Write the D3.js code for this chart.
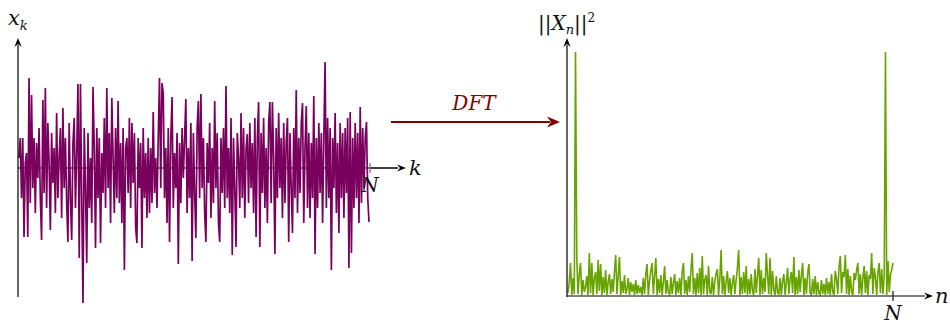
<!DOCTYPE html>
<html>
<head>
<meta charset="utf-8">
<script src="https://cdn.jsdelivr.net/npm/d3@7"></script>
<style>
  html, body { margin: 0; padding: 0; background: #fff; }
  svg { display: block; }
  text { font-family: "DejaVu Serif", "Liberation Serif", serif; }
</style>
</head>
<body>
<svg id="chart" width="950" height="325"></svg>
<script>
// ---- DATA ----
const signal = [
  0.10, 0.30, -0.30, 0.30, -0.69, 0.05, 0.15, -0.69, 0.90, -0.35, 0.73, -0.20, 0.30, -0.45, 0.25, -0.10, 0.40, -0.30, -0.72, 0.68,
  -0.25, 0.80, -0.40, 0.45, 0.05, -0.62, 0.35, -0.15, 0.20, -0.45, 0.55, -0.30, 0.10, 0.40, -0.50, 0.60, -0.20, 0.30, -0.35, -0.74,
  0.45, -0.30, -0.72, 0.25, 0.50, -0.40, 0.15, 0.84, -0.90, 0.84, -0.30, -1.35, 0.40, -0.20, -0.95, 0.35, -0.40, 0.10, -0.55, 0.81,
  0.20, -0.80, 0.40, -0.30, 0.30, -0.75, 0.15, -0.25, 0.50, -0.40, 0.80, -0.20, 0.35, -0.55, 0.70, 0.10, -0.45, 0.40, -0.30, 0.67,
  -0.35, 0.25, -0.55, 0.40, -1.02, 0.20, 0.30, -0.25, 0.50, -0.40, 0.45, -0.15, 0.35, -0.60, -0.75, 0.30, -0.20, 0.25, -0.80, 0.40,
  -0.30, 0.15, -0.50, 0.30, -0.45, 0.20, -0.35, 0.56, -0.25, 0.10, -0.40, 0.30, 0.90, -0.20, 0.85, 0.75, -0.30, 0.20, -0.55, 0.40,
  -0.74, 0.30, 0.71, -0.40, 0.15, -0.20, 0.35, -0.96, 0.25, -0.35, 0.40, -0.10, 0.30, 0.69, -0.45, 0.20, -0.30, 0.45, -0.93, 0.35,
  -0.25, -0.70, 0.40, 0.67, -0.30, 0.74, -0.20, 0.30, -0.45, -0.74, 0.25, -0.15, 0.45, -0.50, 0.20, -0.35, 0.67, -0.20, 0.35, -0.55,
  -0.74, 0.30, -0.25, 0.40, -0.40, 0.82, -0.30, 0.20, -0.45, 0.50, -0.87, 0.30, -0.20, -0.79, 0.35, 0.10, -0.40, 0.55, -0.30, 0.40,
  -0.50, 0.20, 0.34, -0.35, 0.45, -0.20, 0.25, -0.45, 0.50, -0.69, 0.30, 0.66, -0.79, 0.35, -0.25, 0.50, -0.40, 0.20, -0.55, 0.45,
  0.66, -0.35, 0.66, 0.10, -0.86, 0.40, -0.30, 0.55, -0.20, 0.30, -0.50, 0.45, -0.35, 0.25, 0.50, -0.74, 0.35, -0.20, -0.65, 0.40,
  -0.30, 0.78, -0.45, 0.30, -0.25, 0.45, 0.65, -0.55, 0.20, 0.62, -0.40, 0.35, -0.50, 0.25, -0.30, 0.72, -0.86, 0.30, -0.40, 0.45,
  -0.25, 0.35, -0.55, 0.30, 1.06, -0.40, 0.50, -0.30, 0.40, -1.02, 0.30, -0.20, 0.55, -0.45, 0.25, -0.65, 0.45, -0.30, 0.35, -0.50,
  0.40, -0.25, 0.50, -1.00, 0.56, -0.85, 0.30, -0.40, 0.45, -0.30, 0.35, -0.55, 0.61, -0.35, 0.40, -0.20, 0.30, 0.46, -0.30, -0.54
];

const spectrum = [
  3, 14, 33, 1, 18, 2, 244, 37, 2, 22, 33, 1, 16, 4, 9, 20, 1, 43, 3, 33,
  1, 18, 24, 2, 36, 5, 32, 1, 19, 3, 26, 1, 14, 22, 2, 17, 4, 24, 41, 2,
  20, 39, 1, 15, 3, 21, 2, 7, 18, 1, 14, 4, 12, 1, 16, 2, 11, 3, 9, 1,
  18, 2, 22, 32, 1, 15, 25, 33, 2, 20, 38, 1, 17, 3, 21, 1, 14, 30, 2, 16,
  4, 1, 19, 2, 13, 22, 1, 15, 3, 18, 1, 24, 33, 2, 16, 1, 20, 4, 27, 43,
  2, 18, 1, 23, 3, 28, 1, 40, 2, 16, 21, 1, 30, 4, 2, 19, 1, 15, 22, 27,
  1, 17, 46, 2, 20, 1, 14, 25, 3, 18, 1, 13, 21, 2, 16, 28, 46, 1, 19, 2,
  24, 3, 30, 1, 17, 2, 22, 5, 1, 27, 3, 20, 38, 1, 26, 2, 18, 4, 43, 21,
  2, 38, 1, 25, 6, 1, 20, 3, 2, 18, 1, 15, 22, 1, 14, 28, 2, 17, 24, 3,
  39, 1, 19, 2, 26, 4, 21, 33, 1, 18, 2, 23, 32, 3, 1, 17, 2, 20, 1, 14,
  3, 1, 16, 2, 12, 1, 18, 2, 14, 1, 22, 4, 1, 25, 17, 2, 29, 40, 3, 24,
  19, 41, 2, 27, 1, 20, 4, 1, 23, 16, 26, 33, 2, 22, 1, 18, 30, 3, 25, 1,
  21, 17, 43, 2, 28, 19, 1, 24, 33, 3, 27, 2, 20, 244, 1, 35, 4, 22, 26, 33
];

const leftTickLabels = ["N"];
const rightTickLabels = ["N"];
const arrowLabel = "DFT";

// ---- DRAWING ----
const svg = d3.select("#chart");
const purple = "#7a005e";
const green = "#68a400";
const maroon = "#800000";

function arrowHead(g, x, y, dir, color) {
  const L = 9, W = 3.6, B = 3;
  let p;
  if (dir === "right") {
    p = `M${x},${y} L${x - L},${y - W} L${x - L + B},${y} L${x - L},${y + W} Z`;
  } else {
    p = `M${x},${y} L${x - W},${y + L} L${x},${y + L - B} L${x + W},${y + L} Z`;
  }
  g.append("path").attr("d", p).attr("fill", color).attr("stroke", "none");
}

// Left panel
const xL = d3.scaleLinear().domain([0, signal.length - 1]).range([19, 369]);
const yL = d3.scaleLinear().domain([-1, 1]).range([268, 68]);
const gL = svg.append("g");

const axL = yL(0);
gL.append("line").attr("x1", 18).attr("x2", 398).attr("y1", axL).attr("y2", axL)
  .attr("stroke", "#000").attr("stroke-width", 1);

gL.append("path")
  .datum(signal)
  .attr("fill", "none")
  .attr("stroke", purple)
  .attr("stroke-width", 1.7)
  .attr("stroke-linejoin", "miter")
  .attr("stroke-miterlimit", 3)
  .attr("d", d3.line().x((d, i) => xL(i)).y(d => yL(d)));

gL.append("line").attr("x1", 370).attr("x2", 398).attr("y1", axL).attr("y2", axL)
  .attr("stroke", "#000").attr("stroke-width", 1);
arrowHead(gL, 406, axL, "right", "#000");
gL.append("line").attr("x1", 18).attr("x2", 18).attr("y1", 297).attr("y2", 45)
  .attr("stroke", "#000").attr("stroke-width", 1.2);
arrowHead(gL, 18, 38, "up", "#000");

// N tick left
gL.append("line").attr("x1", xL(signal.length - 1) + 1).attr("x2", xL(signal.length - 1) + 1)
  .attr("y1", axL - 5).attr("y2", axL + 5).attr("stroke", "#777").attr("stroke-width", 1.3);
gL.append("text").attr("x", xL(signal.length - 1) + 1).attr("y", axL + 24)
  .attr("text-anchor", "middle").attr("font-style", "italic").attr("font-size", 20)
  .attr("fill", "#111").text(leftTickLabels[0]);

gL.append("text").attr("x", 409).attr("y", axL + 7)
  .attr("font-style", "italic").attr("font-size", 21).attr("fill", "#111").text("k");

const xk = gL.append("text").attr("x", 8).attr("y", 25).attr("font-size", 21).attr("fill", "#111");
xk.append("tspan").attr("font-style", "italic").text("x");
xk.append("tspan").attr("font-style", "italic").attr("font-size", 13).attr("dy", 5).text("k");

// DFT arrow
const gA = svg.append("g");
gA.append("line").attr("x1", 391).attr("x2", 550).attr("y1", 122).attr("y2", 122)
  .attr("stroke", maroon).attr("stroke-width", 2.2);
(function () {
  const x = 560, y = 122, L = 13, W = 5.5, B = 4;
  gA.append("path")
    .attr("d", `M${x},${y} L${x - L},${y - W} L${x - L + B},${y} L${x - L},${y + W} Z`)
    .attr("fill", maroon);
})();
gA.append("text").attr("x", 474).attr("y", 110).attr("text-anchor", "middle")
  .attr("font-style", "italic").attr("font-size", 20).attr("fill", maroon).text(arrowLabel);

// Right panel
const xR = d3.scaleLinear().domain([0, spectrum.length - 1]).range([568, 893]);
const yR = d3.scaleLinear().domain([0, 250]).range([296, 46]);
const gR = svg.append("g");

gR.append("path")
  .datum(spectrum)
  .attr("fill", "none")
  .attr("stroke", green)
  .attr("stroke-width", 1.6)
  .attr("stroke-miterlimit", 3)
  .attr("d", d3.line().x((d, i) => xR(i)).y(d => yR(d)));

const axR = yR(0);
gR.append("line").attr("x1", 567).attr("x2", 925).attr("y1", axR).attr("y2", axR)
  .attr("stroke", "#000").attr("stroke-width", 1.2);
arrowHead(gR, 933, axR, "right", "#000");
gR.append("line").attr("x1", 567).attr("x2", 567).attr("y1", axR + 1).attr("y2", 45)
  .attr("stroke", "#000").attr("stroke-width", 1.2);
arrowHead(gR, 567, 38, "up", "#000");

gR.append("line").attr("x1", xR(spectrum.length - 1)).attr("x2", xR(spectrum.length - 1))
  .attr("y1", axR - 5).attr("y2", axR + 5).attr("stroke", "#111").attr("stroke-width", 1.2);
gR.append("text").attr("x", xR(spectrum.length - 1)).attr("y", axR + 24)
  .attr("text-anchor", "middle").attr("font-style", "italic").attr("font-size", 20)
  .attr("fill", "#111").text(rightTickLabels[0]);

gR.append("text").attr("x", 935).attr("y", axR + 7)
  .attr("font-style", "italic").attr("font-size", 21).attr("fill", "#111").text("n");

const xn = gR.append("text").attr("x", 538).attr("y", 30).attr("font-size", 20).attr("fill", "#111");
xn.append("tspan").text("||");
xn.append("tspan").attr("font-style", "italic").text("X");
xn.append("tspan").attr("font-style", "italic").attr("font-size", 13).attr("dy", 4).text("n");
xn.append("tspan").attr("dy", -4).text("||");
xn.append("tspan").attr("font-size", 12).attr("dy", -8).text("2");
</script>
</body>
</html>
